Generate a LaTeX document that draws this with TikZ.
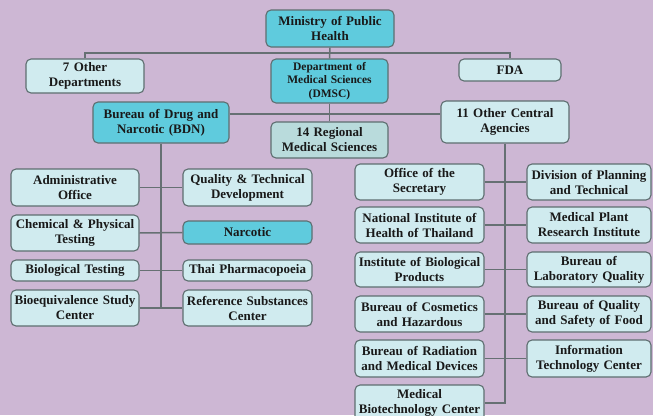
\documentclass[tikz,border=0pt]{standalone}
\usepackage{fontspec}
\setmainfont{Liberation Serif}
\definecolor{bgpurple}{HTML}{CDB7D4}
\definecolor{darkcyan}{HTML}{5FCBDD}
\definecolor{palecyan}{HTML}{D0EBEF}
\definecolor{greycyan}{HTML}{B9DBDC}
\definecolor{rimgrey}{HTML}{5E6E70}
\definecolor{linkgrey}{HTML}{667073}

\begin{document}
\begin{tikzpicture}[x=1pt,y=-1pt,
	box/.style={draw=rimgrey,line width=1.1pt,rounded corners=5pt,align=center,inner sep=0pt,fill=palecyan,
		font=\bfseries\fontsize{13}{15}\selectfont,text=black!90},
	dark/.style={box,fill=darkcyan},
	link/.style={draw=linkgrey,line width=1.5pt}]
	\useasboundingbox (0,0) rectangle (653,415);
	\fill[bgpurple] (0,0) rectangle (653,415);
	\clip (0,0) rectangle (653,415);
	% top levels
	\node[dark,text width=128pt,minimum height=37pt] (min) at (330,28.5) {Ministry of Public\\Health};
	\node[box,text width=118pt,minimum height=34pt] (oth) at (85,76) {7 Other\\Departments};
	\node[dark,text width=117pt,minimum height=44pt,font=\bfseries\fontsize{11.5}{13.6}\selectfont] (dmsc) at (329.5,81) {Department of\\Medical Sciences\\(DMSC)};
	\node[box,text width=102pt,minimum height=22pt] (fda) at (510,70) {FDA};
	\node[dark,text width=136pt,minimum height=41pt] (bdn) at (161,122.5) {Bureau of Drug and\\Narcotic (BDN)};
	\node[box,fill=greycyan,text width=117pt,minimum height=36pt] (reg) at (329.5,140) {14 Regional\\Medical Sciences};
	\node[box,text width=128pt,minimum height=42pt] (oca) at (505,122) {11 Other Central\\Agencies};
	\coordinate (top) at (330,53);
	\coordinate (mid) at (330,114);
	% BDN divisions
	\node[box,text width=128pt,minimum height=37pt] (adm) at (75,187.5) {Administrative\\Office};
	\node[box,text width=129pt,minimum height=37pt] (qual) at (247.5,187.5) {Quality \& Technical\\Development};
	\node[box,text width=128pt,minimum height=36pt] (chem) at (75,233) {Chemical \& Physical\\Testing};
	\node[dark,text width=129pt,minimum height=23pt] (narc) at (247.5,232.5) {Narcotic};
	\node[box,text width=128pt,minimum height=21pt] (biol) at (75,270.5) {Biological Testing};
	\node[box,text width=129pt,minimum height=21pt] (thai) at (247.5,270.5) {Thai Pharmacopoeia};
	\node[box,text width=128pt,minimum height=36pt] (bioeq) at (75,308) {Bioequivalence Study\\Center};
	\node[box,text width=129pt,minimum height=36pt] (ref) at (247.5,308) {Reference Substances\\Center};
	% central agencies
	\node[box,text width=129pt,minimum height=36pt] (sec) at (419.5,182) {Office of the\\Secretary};
	\node[box,text width=124pt,minimum height=36pt] (plan) at (589,182) {Division of Planning\\and Technical};
	\node[box,text width=129pt,minimum height=36pt] (nih) at (419.5,225) {National Institute of\\Health of Thailand};
	\node[box,text width=124pt,minimum height=36pt] (plant) at (589,225) {Medical Plant\\Research Institute};
	\node[box,text width=129pt,minimum height=35pt] (ibp) at (419.5,269.5) {Institute of Biological\\Products};
	\node[box,text width=124pt,minimum height=35pt] (blq) at (589,269.5) {Bureau of\\Laboratory Quality};
	\node[box,text width=129pt,minimum height=36pt] (cosm) at (419.5,314) {Bureau of Cosmetics\\and Hazardous};
	\node[box,text width=124pt,minimum height=36pt] (food) at (589,314) {Bureau of Quality\\and Safety of Food};
	\node[box,text width=129pt,minimum height=37pt] (rad) at (419.5,358.5) {Bureau of Radiation\\and Medical Devices};
	\node[box,text width=124pt,minimum height=37pt] (itc) at (589,358.5) {Information\\Technology Center};
	\node[box,text width=129pt,minimum height=36pt] (mbc) at (419.5,403) {Medical\\Biotechnology Center};
	% connectors
	\path[link] (oth.north) |- (top) -| (fda.north);
	\path[link] (min.south) -- (dmsc.north);
	\path[link] (dmsc.south) -- (reg.north);
	\path[link] (bdn.east |- mid) -- (oca.west |- mid);
	\path[link] (bdn.south) -- (bdn.south |- bioeq.east);
	\foreach \a/\b in {adm/qual,chem/narc,biol/thai,bioeq/ref,sec/plan,nih/plant,ibp/blq,cosm/food,rad/itc}
		\path[link] (\a.east) -- (\b.west);
	\path[link] (oca.south) |- (mbc.east);
\end{tikzpicture}
\end{document}
